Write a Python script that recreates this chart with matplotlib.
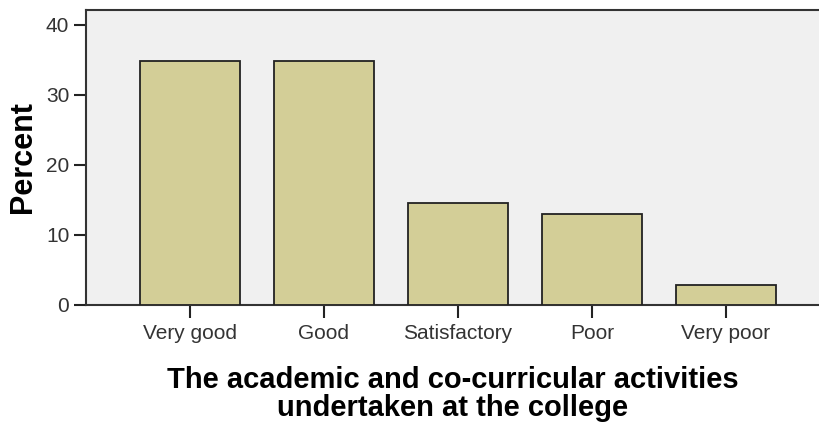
import matplotlib.pyplot as plt
import numpy as np

# Bar chart of percentages (SPSS style)
categories = ['Very good', 'Good', 'Satisfactory', 'Poor', 'Very poor']
percent = [34.8, 34.8, 14.5, 13.0, 2.9]
y_ticks = [0, 10, 20, 30, 40]

plt.rcParams['font.family'] = ['Liberation Sans', 'DejaVu Sans']

fig = plt.figure(figsize=(8.19, 4.29), dpi=100)
# axes placed in figure pixels: left 86, right 819, top 10, bottom 305
W, H = 819, 429
ax = fig.add_axes([86 / W, (H - 305) / H, (819 - 86) / W, (305 - 10) / H])
ax.set_facecolor('#F0F0F0')

x = np.arange(len(categories))
ax.bar(x, percent, width=0.746, color='#D3CE97', edgecolor='#222222', linewidth=1.3, zorder=3)

ax.set_xlim(-0.776, 4.694)
ax.set_ylim(0, 42.1)
ax.set_yticks(y_ticks)
ax.set_xticks(x)
ax.set_xticklabels(categories)
ax.tick_params(axis='both', direction='out', length=9, width=1.5, color='#222222',
               labelsize=15, labelcolor='#333333', pad=3)
ax.tick_params(axis='x', pad=5)

for side in ['left', 'bottom', 'top']:
    ax.spines[side].set_color('#333333')
    ax.spines[side].set_linewidth(1.5)
ax.spines['right'].set_visible(False)

ax.set_ylabel('Percent', fontsize=22, fontweight='bold', labelpad=6)
ax.set_xlabel('The academic and co-curricular activities\nundertaken at the college',
              fontsize=21, fontweight='bold', labelpad=16, linespacing=1.0)

fig.savefig('out.png', dpi=100)
